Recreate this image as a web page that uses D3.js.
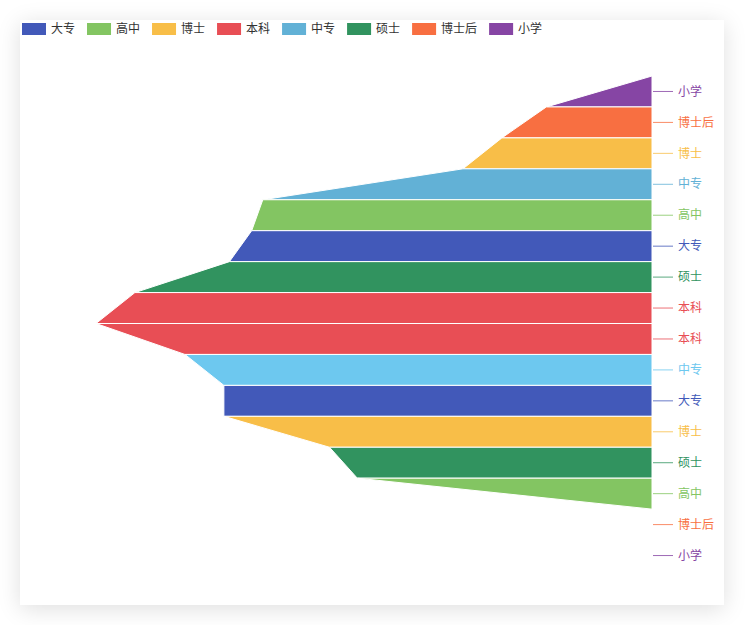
<!doctype html>
<html>
<head>
<meta charset="utf-8">
<script src="https://d3js.org/d3.v7.min.js"></script>
<style>
  body { margin: 0; background: #fff; font-family: "Noto Sans CJK SC", "Noto Sans", sans-serif; }
  #card { position: absolute; left: 20px; top: 20px; width: 704px; height: 585px;
          background: #fff; box-shadow: 0 4px 22px rgba(0,0,0,0.13); }
  svg { position: absolute; left: 0; top: 0; }
</style>
</head>
<body>
<div id="card"></div>
<script>

// legend entries and their colours
var legendNames = ["大专", "高中", "博士", "本科", "中专", "硕士", "博士后", "小学"];
var legendColors = ["#4259b9", "#83c562", "#f8be48", "#e84e55", "#62b1d6", "#31935f", "#f86f41", "#8645a4"];

// funnel rows, top to bottom
var rowNames = ["小学", "博士后", "博士", "中专", "高中", "大专", "硕士", "本科",
                "本科", "中专", "大专", "博士", "硕士", "高中", "博士后", "小学"];
var rowValues = [0, 19, 27, 34, 70, 72, 76, 93, 100, 84, 77, 77, 58, 53, 0, 0];

var width = 745, height = 625;

var svg = d3.select("body").append("svg")
    .attr("width", width)
    .attr("height", height);

var color = d3.scaleOrdinal().domain(legendNames).range(legendColors);
// the second 中专 row is drawn in a lighter blue
function rowColor(name, i) {
    if (name === "中专" && i > 8) return "#6dc8ef";
    return color(name);
}

var right = 652;
var xScale = d3.scaleLinear().domain([0, d3.max(rowValues)]).range([0, 556]);
var yScale = d3.scaleLinear().domain([0, rowNames.length]).range([76, 571]);

var g = svg.append("g");

g.selectAll(".seg")
  .data(rowNames)
  .enter().append("polygon")
  .attr("class", "seg")
  .attr("points", function(d, i) {
      var top = yScale(i), bot = yScale(i + 1);
      var w0 = xScale(rowValues[i]);
      var w1 = i < rowValues.length - 1 ? xScale(rowValues[i + 1]) : 0;
      return [[right - w0, top], [right, top], [right, bot], [right - w1, bot]].join(" ");
  })
  .attr("fill", function(d, i) { return rowColor(d, i); })
  .attr("stroke", "#fff")
  .attr("stroke-width", 1)
  .attr("stroke-linejoin", "round");

var labels = g.selectAll(".lbl")
  .data(rowNames)
  .enter().append("g")
  .attr("class", "lbl")
  .attr("transform", function(d, i) {
      return "translate(0," + ((yScale(i) + yScale(i + 1)) / 2) + ")";
  });

labels.append("line")
  .attr("x1", right + 1)
  .attr("x2", right + 21)
  .attr("stroke", function(d, i) { return rowColor(d, i); })
  .attr("stroke-opacity", 0.8)
  .attr("stroke-width", 1);

labels.append("text")
  .attr("x", right + 26)
  .attr("dy", "0.35em")
  .attr("font-size", "12px")
  .attr("fill", function(d, i) { return rowColor(d, i); })
  .text(function(d) { return d; });

// legend
var legend = svg.append("g");
var lx = 22;
legendNames.forEach(function(name, i) {
    var item = legend.append("g").attr("transform", "translate(" + lx + ",23)");
    item.append("rect")
        .attr("width", 24)
        .attr("height", 12)
        .attr("fill", legendColors[i]);
    var t = item.append("text")
        .attr("x", 29)
        .attr("y", 6)
        .attr("dy", "0.35em")
        .attr("font-size", "12px")
        .attr("fill", "#333")
        .text(name);
    lx += 29 + t.node().getComputedTextLength() + 12;
});

</script>
</body>
</html>
